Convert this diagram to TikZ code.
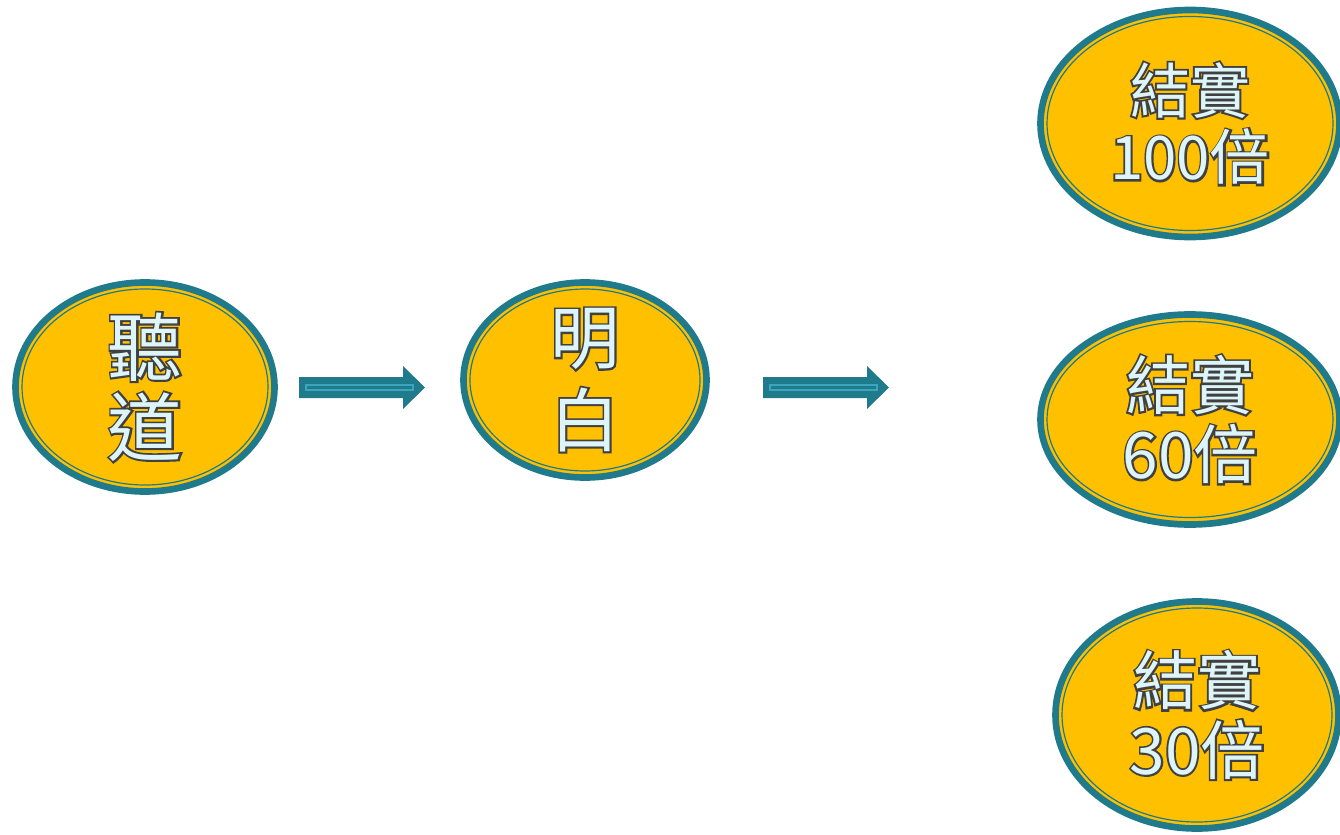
\documentclass[tikz,border=0pt]{standalone}
\usepackage{fontspec}
\usetikzlibrary{shapes.geometric}
\newfontfamily\cjk{Noto Sans CJK TC}
\definecolor{gold}{HTML}{FFC000}
\definecolor{teal}{HTML}{1F7A8C}
\definecolor{glint}{HTML}{3AA6BD}
\definecolor{ice}{HTML}{DDF4F8}
% outlined letters: dark grey stroke underneath, ice fill on top
\newcommand{\rim}[1]{\makebox[0pt][l]{\special{pdf:literal direct 1 Tr 2.8 w 0.25 0.25 0.25 RG}#1\special{pdf:literal direct 0 Tr}}#1}

\begin{document}
\begin{tikzpicture}[x=0.75pt,y=-0.75pt]
            \tikzset{pod/.style={ellipse, fill=gold, draw=teal, line width=5pt, inner sep=0pt, align=center, text=ice}};
            \tikzset{ring/.style={draw=teal, line width=0.9pt}};
            \tikzset{fatarrow/.pic={
                \fill[teal] (0,-10.5) -- (104,-10.5) -- (104,-21.5) -- (126,0) -- (104,21.5) -- (104,10.5) -- (0,10.5) -- cycle;
                \draw[glint, line width=0.8pt] (7,-2.5) rectangle (114,2.5);}};
            
            \useasboundingbox (0,0) rectangle (1340,835);
            
            % hearing, understanding
            \node[pod, minimum width=0.75pt*259, minimum height=0.75pt*209, inner ysep=-2pt,
                  font=\cjk\fontsize{56}{60}\selectfont] (ting) at (145,387) {\rim{聽}\\\rim{道}};
            \node[pod, minimum width=0.75pt*243, minimum height=0.75pt*195, inner ysep=-8pt,
                  font=\cjk\fontsize{52}{62}\selectfont] (mingbai) at (585,380) {\rim{明}\\\rim{白}};
            
            % fruit
            \node[pod, minimum width=0.75pt*299, minimum height=0.75pt*227,
                  font=\cjk\fontsize{45}{50}\selectfont] (bai) at (1190,123.5) {\rim{結實}\\\rim{100倍}};
            \node[pod, minimum width=0.75pt*299, minimum height=0.75pt*210,
                  font=\cjk\fontsize{48}{52}\selectfont] (liushi) at (1190,419.5) {\rim{結實}\\\rim{60倍}};
            \node[pod, minimum width=0.75pt*283, minimum height=0.75pt*227,
                  font=\cjk\fontsize{48}{52}\selectfont] (sanshi) at (1197,715) {\rim{結實}\\\rim{30倍}};
            
            \foreach \n/\a/\b in {ting/123/98, mingbai/115/91, bai/143/107, liushi/143/98, sanshi/135/107}
                \draw[ring] (\n.center) ellipse [x radius=\a*0.75pt, y radius=\b*0.75pt];
            
            \pic at (299,387.5) {fatarrow};
            \pic at (763,387.5) {fatarrow};
        \end{tikzpicture}
\end{document}
